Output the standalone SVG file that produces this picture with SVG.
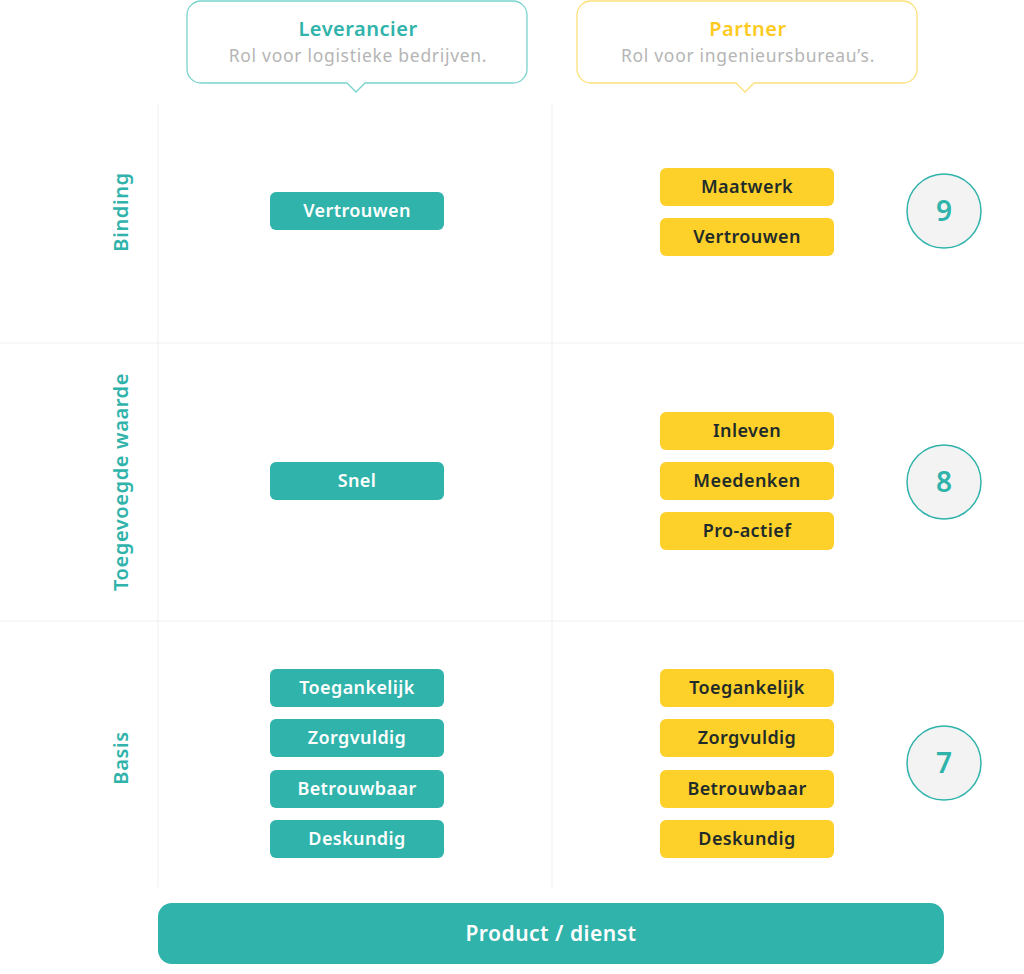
<svg xmlns="http://www.w3.org/2000/svg" width="1024" height="974" viewBox="0 0 1024 974">
<style>
text{font-family:"Noto Sans","Liberation Sans",sans-serif;text-anchor:middle}
.grid{stroke:#efefef;stroke-width:1;fill:none}
.tp rect{fill:#2fb3ab}
.yp rect{fill:#fdd02a}
.tp text{fill:#ffffff;font-size:18px;font-weight:600;letter-spacing:0.4px}
.yp text{fill:#1e2b2a;font-size:18px;font-weight:600;letter-spacing:0.4px}
.rowl{fill:#2fb3ab;font-size:20px;font-weight:600;letter-spacing:0.6px}
.circ circle{fill:#f3f3f3;stroke:#2fb3ab;stroke-width:1.5}
.circ text{fill:#2fb3ab;font-size:28px;font-weight:600}
.ttl{font-size:20px;font-weight:600;letter-spacing:0.5px}
.sub{font-size:17.5px;fill:#b5b5b5;letter-spacing:0.7px}
</style>
<g id="connectors">
<line class="grid" x1="158" y1="103" x2="158" y2="887"/>
<line class="grid" x1="552" y1="103" x2="552" y2="887"/>
<line class="grid" x1="0" y1="343" x2="1024" y2="343"/>
<line class="grid" x1="0" y1="621" x2="1024" y2="621"/>
</g>
<g id="callout-leverancier">
<path d="M201,1 H513 A14,14 0 0 1 527,15 V69 A14,14 0 0 1 513,83 H365 L356,92 L347,83 H201 A14,14 0 0 1 187,69 V15 A14,14 0 0 1 201,1 Z" fill="#fff" stroke="#7ad3cd" stroke-width="1.3"/>
<text class="ttl" x="358" y="36" fill="#2fb3ab">Leverancier</text>
<text class="sub" x="358" y="62">Rol voor logistieke bedrijven.</text>
</g>
<g id="callout-partner">
<path d="M591,1 H903 A14,14 0 0 1 917,15 V69 A14,14 0 0 1 903,83 H754 L745,92 L736,83 H591 A14,14 0 0 1 577,69 V15 A14,14 0 0 1 591,1 Z" fill="#fff" stroke="#fde07a" stroke-width="1.3"/>
<text class="ttl" x="748" y="36" fill="#fdcb1f">Partner</text>
<text class="sub" x="748" y="62">Rol voor ingenieursbureau’s.</text>
</g>
<g id="row-labels">
<text class="rowl" transform="translate(128,212) rotate(-90)">Binding</text>
<text class="rowl" transform="translate(128,482) rotate(-90)">Toegevoegde waarde</text>
<text class="rowl" transform="translate(128,758) rotate(-90)">Basis</text>
</g>
<g id="l-vertrouwen" class="tp"><rect x="270" y="192" width="174" height="38" rx="6"/><text x="357" y="217">Vertrouwen</text></g>
<g id="l-snel" class="tp"><rect x="270" y="462" width="174" height="38" rx="6"/><text x="357" y="487">Snel</text></g>
<g id="l-toegankelijk" class="tp"><rect x="270" y="669" width="174" height="38" rx="6"/><text x="357" y="694">Toegankelijk</text></g>
<g id="l-zorgvuldig" class="tp"><rect x="270" y="719" width="174" height="38" rx="6"/><text x="357" y="744">Zorgvuldig</text></g>
<g id="l-betrouwbaar" class="tp"><rect x="270" y="770" width="174" height="38" rx="6"/><text x="357" y="795">Betrouwbaar</text></g>
<g id="l-deskundig" class="tp"><rect x="270" y="820" width="174" height="38" rx="6"/><text x="357" y="845">Deskundig</text></g>
<g id="p-maatwerk" class="yp"><rect x="660" y="168" width="174" height="38" rx="6"/><text x="747" y="193">Maatwerk</text></g>
<g id="p-vertrouwen" class="yp"><rect x="660" y="218" width="174" height="38" rx="6"/><text x="747" y="243">Vertrouwen</text></g>
<g id="p-inleven" class="yp"><rect x="660" y="412" width="174" height="38" rx="6"/><text x="747" y="437">Inleven</text></g>
<g id="p-meedenken" class="yp"><rect x="660" y="462" width="174" height="38" rx="6"/><text x="747" y="487">Meedenken</text></g>
<g id="p-proactief" class="yp"><rect x="660" y="512" width="174" height="38" rx="6"/><text x="747" y="537">Pro-actief</text></g>
<g id="p-toegankelijk" class="yp"><rect x="660" y="669" width="174" height="38" rx="6"/><text x="747" y="694">Toegankelijk</text></g>
<g id="p-zorgvuldig" class="yp"><rect x="660" y="719" width="174" height="38" rx="6"/><text x="747" y="744">Zorgvuldig</text></g>
<g id="p-betrouwbaar" class="yp"><rect x="660" y="770" width="174" height="38" rx="6"/><text x="747" y="795">Betrouwbaar</text></g>
<g id="p-deskundig" class="yp"><rect x="660" y="820" width="174" height="38" rx="6"/><text x="747" y="845">Deskundig</text></g>
<g id="score-9" class="circ"><circle cx="944" cy="211" r="37"/><text x="944" y="221">9</text></g>
<g id="score-8" class="circ"><circle cx="944" cy="482" r="37"/><text x="944" y="492">8</text></g>
<g id="score-7" class="circ"><circle cx="944" cy="763" r="37"/><text x="944" y="773">7</text></g>
<g id="product-dienst">
<rect x="158" y="903" width="786" height="61" rx="14" fill="#2fb3ab"/>
<text x="551" y="941" fill="#fff" font-size="21" font-weight="600" letter-spacing="0.5">Product / dienst</text>
</g>
</svg>
